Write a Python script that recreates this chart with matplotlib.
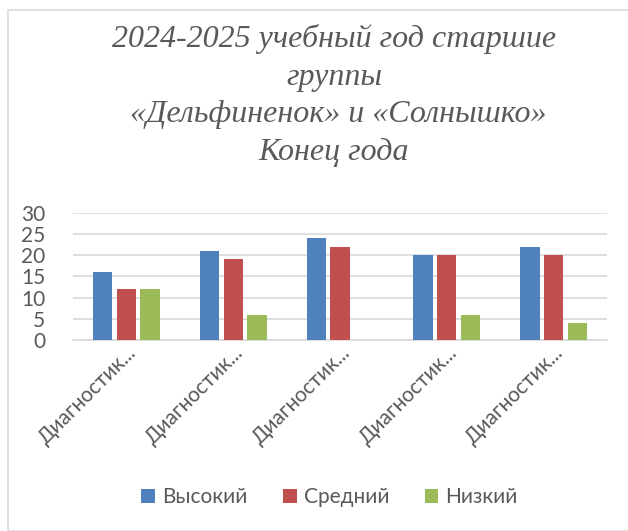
import numpy as np
import matplotlib.pyplot as plt
from matplotlib.patches import Rectangle

# данные
categories = ["Диагностик...", "Диагностик...", "Диагностик...", "Диагностик...", "Диагностик..."]
vysokiy = [16, 21, 24, 20, 22]
sredniy = [12, 19, 22, 20, 20]
nizkiy = [12, 6, 0, 6, 4]
series_names = ["Высокий", "Средний", "Низкий"]
colors = ["#4F81BD", "#C0504D", "#9BBB59"]
title = "2024-2025 учебный год старшие\nгруппы\n «Дельфиненок» и «Солнышко»\nКонец года"

grey = "#595959"
sans = "Lato"

fig = plt.figure(figsize=(6.28, 5.31), dpi=100)
fig.patches.append(Rectangle((8 / 628, 0), 1, 1 - 10 / 531, transform=fig.transFigure,
                             fill=False, edgecolor="#D9D9D9", linewidth=1.2))

ax = fig.add_axes([73 / 628, 1 - 340 / 531, (607 - 73) / 628, (340 - 212.7) / 531])

x = np.arange(len(categories))
w = 0.18
step = 0.222
for i, (vals, name) in enumerate(zip([vysokiy, sredniy, nizkiy], series_names)):
    ax.bar(x + (i - 1) * step, vals, width=w, color=colors[i], label=name, zorder=3)

ax.set_xlim(-0.5, len(categories) - 0.5)
ax.set_ylim(0, 30)
ax.set_yticks(range(0, 31, 5))
ax.grid(axis="y", color="#D9D9D9", linewidth=1.2, zorder=0)
for s in ["top", "right", "left"]:
    ax.spines[s].set_visible(False)
ax.spines["bottom"].set_color("#D9D9D9")
ax.spines["bottom"].set_linewidth(1.2)
ax.tick_params(axis="both", length=0, colors=grey, labelsize=15)
ax.tick_params(axis="y", pad=20)
ax.tick_params(axis="x", pad=2)
for lab in ax.get_yticklabels():
    lab.set_fontfamily(sans)
ax.set_xticks(x)
ax.set_xticklabels(categories, rotation=45, ha="right", rotation_mode="anchor",
                   fontfamily=sans, fontsize=15, color=grey)
for lab in ax.get_xticklabels():
    lab.set_x(lab.get_position()[0] + 0.12)

fig.text(0.532, 0.954, title, ha="center", va="top", fontfamily="Liberation Serif",
         style="italic", fontsize=23, color=grey, linespacing=1.38)

fig.legend(loc="center", bbox_to_anchor=(0.525, 1 - 497 / 531), ncol=3, frameon=False,
           prop={"family": sans, "size": 15}, labelcolor=grey,
           handlelength=0.65, handleheight=0.65, handletextpad=0.35, columnspacing=1.7)

fig.savefig("out.png", dpi=100)
